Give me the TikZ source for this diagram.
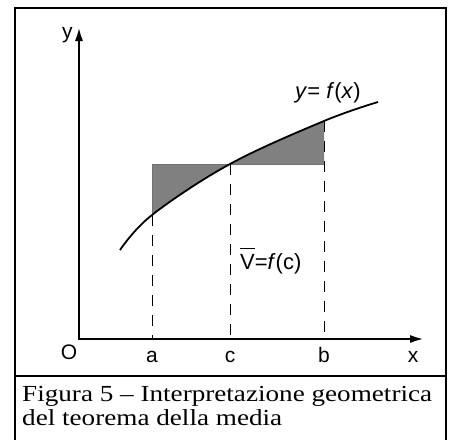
\documentclass[tikz,border=0pt]{standalone}
\usepackage{fontspec}
\setmainfont{Liberation Serif}
\setsansfont{Liberation Sans}
\newfontfamily\capfont[FakeStretch=1.18,Ligatures=TeX]{Liberation Serif}
\usetikzlibrary{arrows.meta}
\begin{document}
\begin{tikzpicture}[x=1pt,y=-1pt,
  frame/.style={line width=2.2pt},
  axis/.style={line width=2.8pt,{Latex[length=15pt,width=8pt]}-{Latex[length=15pt,width=8pt]}},
  curve/.style={line width=1.8pt},
  guide/.style={line width=0.9pt,dash pattern=on 11pt off 9pt},
  rim/.style={line width=0.8pt,black!55},
  shade/.style={fill=black!50},
  lbl/.style={font=\fontsize{21}{21}\selectfont\sffamily, inner sep=0pt, anchor=base},
  flbl/.style={font=\fontsize{22}{22}\selectfont\sffamily, inner sep=0pt, anchor=base west},
  captext/.style={font=\fontsize{23}{25}\capfont, inner sep=0pt, anchor=base west}]
\useasboundingbox (0,0) rectangle (451,440);
\def\fcurve{plot[smooth,tension=0.6] coordinates {(120,250)(152,215)(230,164)(324,121)(378,102)}}
% frame
\draw[frame] (15,445) -- (15,8) -- (446,8) -- (446,445);
\draw[frame] (15,376) -- (446,376);
% named points
\coordinate (ytip) at (79,26);
\coordinate (O) at (79,339);
\coordinate (xtip) at (425,339);
\coordinate (aT) at (152,164);
\coordinate (aC) at (152,215);
\coordinate (aB) at (152,339);
\coordinate (cT) at (230,164);
\coordinate (cB) at (230,339);
\coordinate (bT) at (324,121);
\coordinate (bM) at (324,164);
\coordinate (bB) at (324,339);
% shaded regions
\begin{scope}
  \clip (152,164) rectangle (324,330);
  \fill[shade] \fcurve -- (378,0) -- (120,0) -- cycle;
\end{scope}
\begin{scope}
  \clip (152,0) rectangle (324,164);
  \fill[shade] \fcurve -- (378,330) -- (120,330) -- cycle;
\end{scope}
\draw[rim] (aC) -- (aT) -- (bM);
% guides
\draw[guide] (aC) -- (aB);
\draw[guide] (cT) -- (cB);
\draw[guide] (bT) -- (bB);
% curve
\draw[curve] \fcurve;
% axes
\draw[axis] (ytip) -- (O) -- (xtip);
% labels
\node[flbl,font=\fontsize{21}{21}\selectfont\sffamily] (ylab) at (62,38) {y};
\node[lbl] (Olab) at (69,359) {O};
\node[lbl] (alab) at (152,362) {a};
\node[lbl] (clab) at (230,362) {c};
\node[lbl] (blab) at (324,362) {b};
\node[lbl] (xlab) at (413,362) {x};
\node[flbl] (flab) at (295,98) {\textit{y}= \textit{f}(\textit{x})};
\node[flbl] (vlab) at (240,269) {$\overline{\mbox{\rule{0pt}{0.9em}V}}$=\textit{f}(c)};
\node[captext] (cap1) at (22,401) {Figura 5 \textendash{} Interpretazione geometrica};
\node[captext] (cap2) at (22,425) {del teorema della media};
\end{tikzpicture}
\end{document}
